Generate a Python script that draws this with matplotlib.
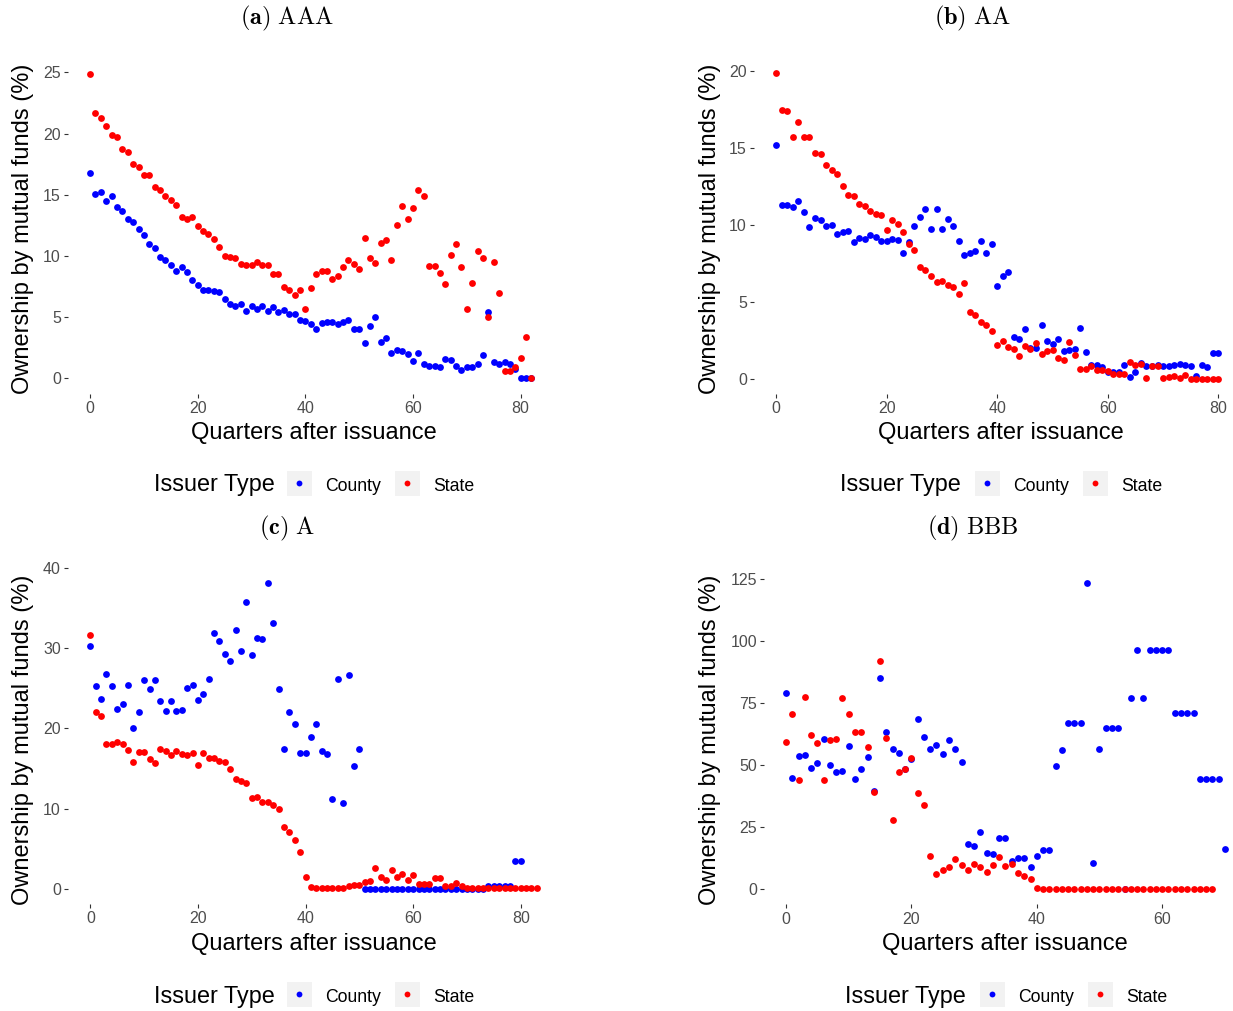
import matplotlib
matplotlib.use("Agg")
import matplotlib.pyplot as plt
from matplotlib.lines import Line2D
from matplotlib.legend_handler import HandlerTuple
import numpy as np

plt.rcParams['font.family'] = ['Liberation Sans', 'DejaVu Sans']
plt.rcParams['mathtext.fontset'] = 'cm'

W, H = 1233, 1011

# ---------------------------------------------------------------- data
# Mutual fund ownership (%) by quarter after issuance, one value per quarter
aaa_county = [
    16.8, 15.05, 15.25, 14.5, 14.9, 14.0, 13.7, 13.05, 12.8, 12.2,
    11.7, 10.95, 10.65, 9.95, 9.67, 9.24, 8.8, 9.1, 8.7, 8.04,
    7.66, 7.23, 7.23, 7.17, 7.07, 6.47, 6.09, 5.92, 6.09, 5.52,
    5.92, 5.7, 5.92, 5.52, 5.84, 5.43, 5.57, 5.24, 5.24, 4.73,
    4.7, 4.4, 4.0, 4.54, 4.6, 4.6, 4.4, 4.6, 4.75, 4.0,
    4.0, 2.88, 4.27, 5.03, 2.96, 3.32, 2.04, 2.28, 2.2, 1.96,
    1.44, 2.09, 1.17, 1.0, 0.98, 0.95, 1.6, 1.52, 0.98, 0.68,
    0.9, 0.9, 1.17, 1.93, 5.46, 1.3, 1.17, 1.3, 1.17, 0.76,
    0.0, 0.0, 0.0,
]
aaa_state = [
    24.9, 21.7, 21.3, 20.6, 19.9, 19.75, 18.7, 18.5, 17.5, 17.3,
    16.6, 16.6, 15.6, 15.35, 14.9, 14.6, 14.2, 13.2, 13.0, 13.15,
    12.45, 12.0, 11.8, 11.4, 10.7, 10.0, 9.9, 9.8, 9.35, 9.3,
    9.3, 9.5, 9.3, 9.3, 8.5, 8.5, 7.5, 7.2, 6.8, 7.2,
    5.65, 7.4, 8.5, 8.8, 8.8, 8.15, 8.4, 9.1, 9.65, 9.35,
    8.97, 11.5, 9.8, 9.45, 11.05, 11.3, 9.67, 12.5, 14.1, 13.0,
    13.9, 15.35, 14.9, 9.15, 9.15, 8.6, 7.7, 10.1, 11.0, 9.1,
    5.7, 7.75, 10.4, 9.8, 5.05, 9.5, 7.0, 0.6, 0.6, 0.9,
    1.7, 3.37, 0.0,
]

aa_county = [
    15.2, 11.28, 11.32, 11.2, 11.58, 10.87, 9.9, 10.46, 10.33, 9.96,
    10.0, 9.41, 9.52, 9.59, 8.92, 9.13, 9.11, 9.37, 9.24, 8.98,
    8.98, 9.07, 9.0, 8.16, 8.87, 9.93, 10.52, 11.04, 9.76, 11.06,
    9.74, 10.37, 9.93, 8.94, 8.07, 8.18, 8.29, 8.94, 8.18, 8.76,
    6.05, 6.7, 6.92, 2.73, 2.58, 3.21, 1.97, 1.97, 3.5, 2.45,
    2.28, 2.6, 1.82, 1.84, 1.95, 3.28, 1.74, 0.87, 0.87, 0.74,
    0.41, 0.41, 0.41, 0.87, 0.13, 0.41, 1.0, 0.82, 0.82, 0.91,
    0.82, 0.82, 0.91, 0.95, 0.91, 0.82, 0.2, 0.91, 0.78, 1.65,
    1.65,
]
aa_state = [
    19.9, 17.5, 17.45, 15.75, 16.7, 15.75, 15.75, 14.7, 14.6, 13.9,
    13.6, 13.3, 12.55, 11.95, 11.9, 11.35, 11.25, 10.9, 10.7, 10.65,
    9.7, 10.3, 10.1, 9.57, 8.76, 8.4, 7.25, 7.1, 6.7, 6.27,
    6.38, 6.07, 6.0, 5.53, 6.23, 4.32, 4.16, 3.7, 3.5, 3.12,
    2.17, 2.47, 2.04, 1.95, 1.48, 2.15, 1.93, 2.3, 1.6, 1.78,
    1.87, 1.34, 1.21, 2.36, 1.54, 0.63, 0.63, 0.82, 0.56, 0.56,
    0.5, 0.3, 0.3, 0.3, 1.06, 0.89, 0.95, 0.02, 0.85, 0.85,
    0.02, 0.09, 0.2, 0.02, 0.24, 0.0, 0.0, 0.0, 0.0, 0.0,
    0.0,
]

a_county = [
    30.3, 25.3, 23.7, 26.75, 25.33, 22.46, 23.1, 25.46, 20.1, 22.05,
    26.04, 24.92, 26.04, 23.42, 22.2, 23.38, 22.2, 22.25, 25.04, 25.4,
    23.6, 24.25, 26.2, 31.95, 30.95, 29.24, 28.37, 32.24, 29.66, 35.73,
    29.2, 31.28, 31.1, 38.14, 33.1, 24.87, 17.47, 22.0, 20.6, 16.97,
    16.89, 18.93, 20.5, 17.14, 16.8, 11.15, 26.12, 10.73, 26.62, 15.27,
    17.47, 0.0, 0.0, 0.0, 0.0, 0.0, 0.0, 0.0, 0.0, 0.0,
    0.0, 0.0, 0.0, 0.0, 0.0, 0.0, 0.0, 0.0, 0.0, 0.0,
    0.0, 0.0, 0.0, 0.0, 0.35, 0.35, 0.35, 0.35, 0.35, 3.4,
    3.4,
]
a_state = [
    31.65, 22.1, 21.6, 18.05, 18.1, 18.3, 18.1, 17.26, 15.77, 17.05,
    17.1, 16.2, 15.7, 17.47, 17.2, 16.7, 17.18, 16.76, 16.64, 16.93,
    15.5, 16.93, 16.3, 16.3, 15.93, 15.77, 14.9, 13.7, 13.48, 13.14,
    11.3, 11.5, 10.8, 10.77, 10.44, 10.0, 7.65, 7.07, 6.1, 4.53,
    1.41, 0.17, 0.04, 0.04, 0.04, 0.04, 0.04, 0.04, 0.33, 0.46,
    0.46, 0.83, 1.0, 2.58, 1.5, 1.04, 2.29, 1.46, 1.83, 1.04,
    1.66, 0.62, 0.62, 0.62, 1.37, 1.29, 0.33, 0.33, 0.75, 0.37,
    0.05, 0.05, 0.05, 0.05, 0.05, 0.05, 0.05, 0.05, 0.05, 0.05,
    0.05, 0.05, 0.05, 0.05,
]

bbb_county = [
    79.1, 44.8, 53.7, 53.8, 48.9, 50.9, 60.3, 49.8, 47.0, 47.5,
    57.6, 44.3, 48.2, 53.2, 39.5, 85.1, 63.2, 56.3, 54.6, 48.2,
    52.2, 68.5, 61.2, 56.5, 58.0, 54.4, 60.2, 56.4, 51.2, 18.1,
    17.5, 23.0, 14.4, 14.0, 20.7, 20.7, 11.3, 12.35, 12.35, 9.0,
    13.4, 15.8, 15.8, 49.5, 56.0, 66.7, 66.7, 66.7, 123.3, 10.5,
    56.3, 64.7, 64.7, 64.7, 0.0, 77.1, 96.3, 77.1, 96.3, 96.3,
    96.3, 96.3, 70.9, 70.9, 70.9, 70.9, 44.3, 44.3, 44.3, 44.3,
    16.2,
]
bbb_state = [
    59.1, 70.5, 43.8, 77.3, 61.9, 58.7, 43.9, 60.0, 60.3, 76.9,
    70.5, 63.1, 63.1, 57.3, 38.9, 91.8, 60.7, 27.8, 47.0, 48.3,
    52.9, 38.5, 33.8, 13.3, 6.2, 7.65, 8.7, 12.2, 9.7, 7.65,
    10.1, 8.86, 6.7, 9.67, 12.75, 9.26, 10.1, 6.3, 5.2, 4.16,
    0.5, 0.0, 0.0, 0.0, 0.0, 0.0, 0.0, 0.0, 0.0, 0.0,
    0.0, 0.0, 0.0, 0.0, 0.0, 0.0, 0.0, 0.0, 0.0, 0.0,
    0.0, 0.0, 0.0, 0.0, 0.0, 0.0, 0.0, 0.0, 0.0,
]

x_ticks = [0, 20, 40, 60, 80]
aaa_yticks = [0, 5, 10, 15, 20, 25]
aa_yticks = [0, 5, 10, 15, 20]
a_yticks = [0, 10, 20, 30, 40]
bbb_yticks = [0, 25, 50, 75, 100, 125]

issuer_types = ["County", "State"]
issuer_colors = {"County": "#0000FF", "State": "#FF0000"}

# ---------------------------------------------------------------- layout (pixels)
panels = [
    dict(tag="a", rating="AAA", county=aaa_county, state=aaa_state, yticks=aaa_yticks,
         box=(68, 58.3, 553.5, 393.6), title=(287, 18), xlab=(314, 433), ylab=(23, 229),
         leg_title=(154, 485), leg_x=287),
    dict(tag="b", rating="AA", county=aa_county, state=aa_state, yticks=aa_yticks,
         box=(754.2, 57.7, 1240.4, 394.0), title=(973, 18), xlab=(1001, 433), ylab=(710, 229),
         leg_title=(840, 485), leg_x=975),
    dict(tag="c", rating="A", county=a_county, state=a_state, yticks=a_yticks,
         box=(68, 567.8, 559.2, 904.0), title=(287, 528), xlab=(314, 944), ylab=(23, 740),
         leg_title=(154, 996), leg_x=287),
    dict(tag="d", rating="BBB", county=bbb_county, state=bbb_state, yticks=bbb_yticks,
         box=(764.1, 567.5, 1246.8, 904.3), title=(973, 528), xlab=(1005, 944), ylab=(710, 740),
         leg_title=(845, 996), leg_x=980),
]

fig = plt.figure(figsize=(W / 100, H / 100), dpi=100)


def fx(px):
    return px / W


def fy(py):
    return 1 - py / H


for p in panels:
    x0, y0, x1, y1 = p["box"]
    ax = fig.add_axes([fx(x0), fy(y1), (x1 - x0) / W, (y1 - y0) / H])
    n_max = 0
    for name, vals in (("County", p["county"]), ("State", p["state"])):
        q = np.arange(len(vals))
        n_max = max(n_max, len(vals) - 1)
        ax.scatter(q, vals, s=24, color=issuer_colors[name], linewidths=0, zorder=3)
    ax.margins(x=0.05, y=0.05)
    ax.set_xticks([t for t in x_ticks if t <= n_max])
    ax.set_yticks(p["yticks"])
    for s in ax.spines.values():
        s.set_visible(False)
    ax.tick_params(axis="both", length=3.2, width=0.8, color="#333333",
                   labelcolor="#4D4D4D", labelsize=11.5, pad=2)

    fig.text(fx(p["title"][0]), fy(p["title"][1]),
             r"$\mathbf{(%s)}\ \mathrm{%s}$" % (p["tag"], p["rating"]),
             ha="center", va="center", fontsize=17.5)
    fig.text(fx(p["xlab"][0]), fy(p["xlab"][1]), "Quarters after issuance",
             ha="center", va="center", fontsize=17)
    fig.text(fx(p["ylab"][0]), fy(p["ylab"][1]), "Ownership by mutual funds (%)",
             ha="center", va="center", rotation=90, fontsize=17)

    # legend: grey key squares with a dot in the middle
    fig.text(fx(p["leg_title"][0]), fy(p["leg_title"][1]), "Issuer Type",
             ha="left", va="center", fontsize=16.8)
    handles = []
    for name in issuer_types:
        bg = Line2D([], [], linestyle="none", marker="s", markersize=18,
                    markerfacecolor="#F2F2F2", markeredgewidth=0)
        dot = Line2D([], [], linestyle="none", marker="o", markersize=4.2,
                     markerfacecolor=issuer_colors[name], markeredgewidth=0)
        handles.append((bg, dot))
    fig.legend(handles, issuer_types, handler_map={tuple: HandlerTuple(ndivide=1)},
               loc="center left", bbox_to_anchor=(fx(p["leg_x"]), fy(p["leg_title"][1])),
               ncol=2, frameon=False, fontsize=12.7, borderpad=0, borderaxespad=0,
               handlelength=1.4, handleheight=1.4, handletextpad=0.75,
               columnspacing=0.8)

fig.savefig("out.png", dpi=100)
